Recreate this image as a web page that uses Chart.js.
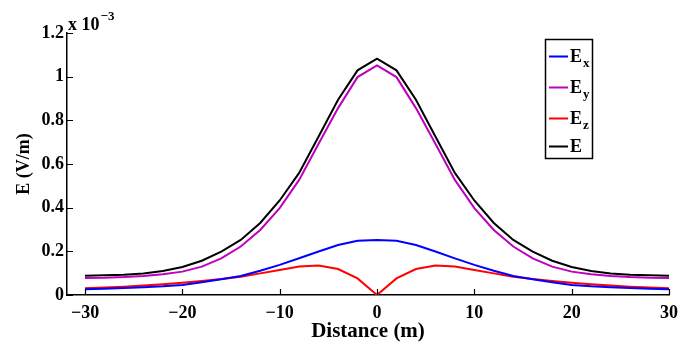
<!DOCTYPE html>
<html>
<head>
<meta charset="utf-8">
<script src="https://cdn.jsdelivr.net/npm/chart.js@4.4.1/dist/chart.umd.min.js"></script>
<style>
  html, body { margin: 0; padding: 0; background: #fff; }
  #wrap { width: 694px; height: 344px; }
</style>
</head>
<body>
<div id="wrap"><canvas id="fieldChart" width="694" height="344"></canvas></div>
<script>
// distance along the profile (m)
const distance = [-30, -28, -26, -24, -22, -20, -18, -16, -14, -12, -10, -8, -6, -4, -2,
                  0, 2, 4, 6, 8, 10, 12, 14, 16, 18, 20, 22, 24, 26, 28, 30];

// field components, in units of 1e-3 V/m
const ex = [0.026, 0.029, 0.032, 0.036, 0.040, 0.046, 0.058, 0.072, 0.087, 0.111, 0.138, 0.168, 0.199, 0.229, 0.248,
            0.252, 0.248, 0.229, 0.199, 0.168, 0.138, 0.111, 0.087, 0.072, 0.058, 0.046, 0.040, 0.036, 0.032, 0.029, 0.026];
const ey = [0.078, 0.079, 0.082, 0.087, 0.095, 0.107, 0.130, 0.168, 0.222, 0.298, 0.398, 0.527, 0.693, 0.856, 0.998,
            1.052, 0.998, 0.856, 0.693, 0.527, 0.398, 0.298, 0.222, 0.168, 0.130, 0.107, 0.095, 0.087, 0.082, 0.079, 0.078];
const ez = [0.031, 0.034, 0.038, 0.043, 0.049, 0.056, 0.064, 0.073, 0.084, 0.099, 0.115, 0.130, 0.135, 0.119, 0.076,
            0.000, 0.076, 0.119, 0.135, 0.130, 0.115, 0.099, 0.084, 0.073, 0.064, 0.056, 0.049, 0.043, 0.038, 0.034, 0.031];
const eTotal = [0.088, 0.090, 0.093, 0.099, 0.110, 0.128, 0.157, 0.199, 0.252, 0.330, 0.433, 0.559, 0.726, 0.894, 1.029,
                1.083, 1.029, 0.894, 0.726, 0.559, 0.433, 0.330, 0.252, 0.199, 0.157, 0.128, 0.110, 0.099, 0.093, 0.090, 0.088];

const seriesNames = ['Ex', 'Ey', 'Ez', 'E'];
const seriesColors = ['#0000ff', '#bf00bf', '#ff0000', '#000000'];
const xTicks = [-30, -20, -10, 0, 10, 20, 30];
const yTicks = [0, 0.2, 0.4, 0.6, 0.8, 1, 1.2];

const FONT = '"Liberation Serif", "Times New Roman", serif';

function toPoints(ys) {
    return distance.map((d, i) => ({ x: d, y: ys[i] }));
}

// inward ticks, the x10^-3 multiplier and the boxed legend (matlab style)
const matlabBits = {
    id: 'matlabBits',
    afterDraw(chart) {
        const ctx = chart.ctx;
        const { x, y } = chart.scales;
        const area = chart.chartArea;

        ctx.save();
        ctx.strokeStyle = '#000';
        ctx.lineWidth = 1.2;
        ctx.beginPath();
        x.ticks.forEach(t => {
            const px = Math.round(x.getPixelForValue(t.value)) + 0.5;
            ctx.moveTo(px, area.bottom);
            ctx.lineTo(px, area.bottom - 6);
        });
        y.ticks.forEach(t => {
            const py = Math.round(y.getPixelForValue(t.value)) + 0.5;
            ctx.moveTo(area.left, py);
            ctx.lineTo(area.left + 6, py);
        });
        ctx.stroke();

        // exponent
        ctx.fillStyle = '#000';
        ctx.textBaseline = 'alphabetic';
        ctx.textAlign = 'left';
        ctx.font = 'bold 18px ' + FONT;
        ctx.fillText('x 10', area.left + 1, 30);
        const w10 = ctx.measureText('x 10').width;
        ctx.font = 'bold 13px ' + FONT;
        ctx.fillText('\u22123', area.left + 1 + w10 + 1, 20);

        // legend
        const bx = 545, by = 39, bw = 47, bh = 119;
        ctx.fillStyle = '#fff';
        ctx.fillRect(bx, by, bw, bh);
        ctx.lineWidth = 1.5;
        ctx.strokeStyle = '#000';
        ctx.strokeRect(bx + 0.5, by + 0.5, bw, bh);
        const rows = [56, 87, 118, 146];
        chart.data.datasets.forEach((ds, i) => {
            const ry = rows[i];
            ctx.strokeStyle = ds.borderColor;
            ctx.lineWidth = 2;
            ctx.beginPath();
            ctx.moveTo(549, ry + 0.5);
            ctx.lineTo(568, ry + 0.5);
            ctx.stroke();
            ctx.fillStyle = '#000';
            ctx.textBaseline = 'middle';
            ctx.font = 'bold 18px ' + FONT;
            const main = ds.label.charAt(0);
            ctx.fillText(main, 570, ry + 1);
            const sub = ds.label.slice(1);
            if (sub) {
                const w = ctx.measureText(main).width;
                ctx.font = 'bold 13px ' + FONT;
                ctx.fillText(sub, 570 + w + 1, ry + 8);
            }
        });
        ctx.restore();
    }
};

const datasets = [ex, ey, ez, eTotal].map((vals, i) => ({
    label: seriesNames[i],
    data: toPoints(vals),
    borderColor: seriesColors[i],
    backgroundColor: seriesColors[i],
    borderWidth: 2,
    pointRadius: 0,
    tension: 0,
    fill: false
}));

new Chart(document.getElementById('fieldChart'), {
    type: 'line',
    data: { datasets: datasets },
    options: {
        responsive: false,
        animation: false,
        events: [],
        layout: { padding: { top: 33, right: 25, left: 0, bottom: 0 } },
        plugins: {
            legend: { display: false },
            tooltip: { enabled: false }
        },
        scales: {
            x: {
                type: 'linear',
                min: -31.85,
                max: 30,
                afterBuildTicks: s => { s.ticks = xTicks.map(v => ({ value: v })); },
                afterFit: s => { s.height = 49; },
                grid: { display: false, drawTicks: false },
                border: { display: true, color: '#000', width: 1.5 },
                ticks: {
                    color: '#000',
                    padding: 8,
                    maxRotation: 0,
                    font: { family: FONT, size: 18, weight: 'bold' },
                    callback: v => (v < 0 ? '\u2212' + Math.abs(v) : String(v))
                },
                title: {
                    display: true,
                    text: 'Distance (m)',
                    color: '#000',
                    padding: { top: 0, bottom: 0 },
                    font: { family: FONT, size: 21, weight: 'bold' }
                }
            },
            y: {
                min: 0,
                max: 1.2,
                afterBuildTicks: s => { s.ticks = yTicks.map(v => ({ value: v })); },
                afterFit: s => { s.width = 67; },
                grid: { display: false, drawTicks: false },
                border: { display: true, color: '#000', width: 1.5 },
                ticks: {
                    color: '#000',
                    padding: 3,
                    font: { family: FONT, size: 18, weight: 'bold' },
                    callback: v => String(Math.round(v * 10) / 10)
                },
                title: {
                    display: true,
                    text: 'E (V/m)',
                    color: '#000',
                    padding: { top: 14, bottom: 0 },
                    font: { family: FONT, size: 18, weight: 'bold' }
                }
            }
        }
    },
    plugins: [matlabBits]
});
</script>
</body>
</html>
